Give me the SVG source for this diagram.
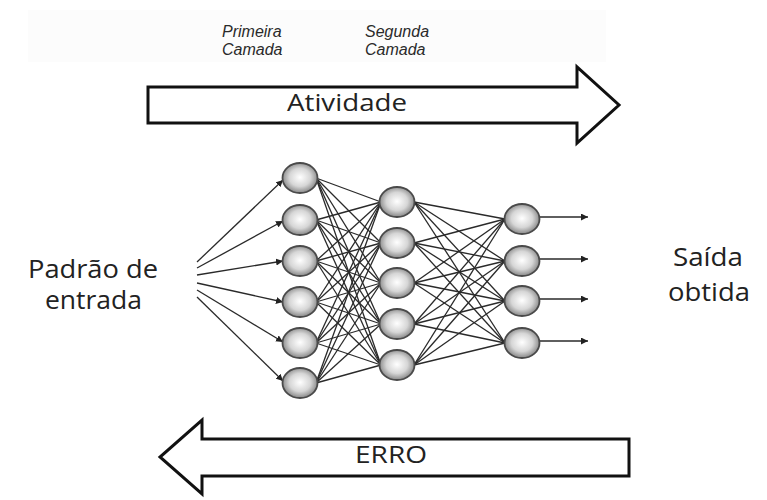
<svg xmlns="http://www.w3.org/2000/svg" width="767" height="500" viewBox="0 0 767 500">
<defs>
<radialGradient id="g" cx="0.5" cy="0.48" r="0.55">
<stop offset="0" stop-color="#ffffff"/>
<stop offset="0.55" stop-color="#d6d6d6"/>
<stop offset="1" stop-color="#7c7c7c"/>
</radialGradient>
<marker id="ah" viewBox="0 0 10 10" refX="10" refY="5" markerWidth="7" markerHeight="7" markerUnits="userSpaceOnUse" orient="auto">
<path d="M0,0 L10,5 L0,10 z" fill="#222"/>
</marker>
</defs>
<style>
.n{fill:url(#g);stroke:#4a4a4a;stroke-width:1.8}
.c line{stroke:#2a2a2a;stroke-width:1.3}
.a{stroke:#2a2a2a;stroke-width:1.3;marker-end:url(#ah)}
.big{fill:#fff;stroke:#111;stroke-width:3}
.lbl{font-family:"Open Sans","Liberation Sans",sans-serif;fill:#222}
.side{font-family:"Open Sans","Liberation Sans",sans-serif;fill:#222;font-size:25px}
.it{font-family:"Liberation Sans",Arial,sans-serif;font-style:italic;font-size:16px;fill:#2a2a2a}
</style>
<rect width="767" height="500" fill="#fff"/>
<rect x="28" y="10" width="578" height="52" fill="#fcfcfc"/>

<g id="label-primeira"><text class="it" x="222" y="37">Primeira</text><text class="it" x="222" y="55">Camada</text></g>
<g id="label-segunda"><text class="it" x="365" y="37">Segunda</text><text class="it" x="365" y="55">Camada</text></g>

<g id="arrow-atividade">
<path class="big" d="M148,87 L577,87 L577,67 L619,105 L577,143 L577,123 L148,123 Z"/>
<text class="lbl" x="287" y="111" font-size="24" textLength="120" lengthAdjust="spacingAndGlyphs">Atividade</text>
</g>
<g id="arrow-erro">
<path class="big" d="M629,439 L202,439 L202,420 L160,457 L202,494 L202,476 L629,476 Z"/>
<text class="lbl" x="355" y="463" font-size="24" textLength="72" lengthAdjust="spacingAndGlyphs">ERRO</text>
</g>

<g id="label-entrada"><text class="side" x="28" y="278" textLength="130" lengthAdjust="spacingAndGlyphs">Padrão de</text><text class="side" x="45" y="309" textLength="97" lengthAdjust="spacingAndGlyphs">entrada</text></g>
<g id="label-saida"><text class="side" x="673" y="266" textLength="70" lengthAdjust="spacingAndGlyphs">Saída</text><text class="side" x="668" y="301" textLength="82" lengthAdjust="spacingAndGlyphs">obtida</text></g>

<g id="connectors" class="c">
<line class="a" x1="197" y1="262" x2="283" y2="180"/>
<line class="a" x1="197" y1="268" x2="283" y2="221"/>
<line class="a" x1="197" y1="275" x2="283" y2="261"/>
<line class="a" x1="197" y1="283" x2="283" y2="302"/>
<line class="a" x1="197" y1="290" x2="283" y2="342"/>
<line class="a" x1="197" y1="297" x2="283" y2="381"/>
<line x1="316" y1="178" x2="381" y2="202"/><line x1="316" y1="178" x2="381" y2="243"/><line x1="316" y1="178" x2="381" y2="283"/><line x1="316" y1="178" x2="381" y2="324"/><line x1="316" y1="178" x2="381" y2="365"/>
<line x1="316" y1="220" x2="381" y2="202"/><line x1="316" y1="220" x2="381" y2="243"/><line x1="316" y1="220" x2="381" y2="283"/><line x1="316" y1="220" x2="381" y2="324"/><line x1="316" y1="220" x2="381" y2="365"/>
<line x1="316" y1="261" x2="381" y2="202"/><line x1="316" y1="261" x2="381" y2="243"/><line x1="316" y1="261" x2="381" y2="283"/><line x1="316" y1="261" x2="381" y2="324"/><line x1="316" y1="261" x2="381" y2="365"/>
<line x1="316" y1="302" x2="381" y2="202"/><line x1="316" y1="302" x2="381" y2="243"/><line x1="316" y1="302" x2="381" y2="283"/><line x1="316" y1="302" x2="381" y2="324"/><line x1="316" y1="302" x2="381" y2="365"/>
<line x1="316" y1="343" x2="381" y2="202"/><line x1="316" y1="343" x2="381" y2="243"/><line x1="316" y1="343" x2="381" y2="283"/><line x1="316" y1="343" x2="381" y2="324"/><line x1="316" y1="343" x2="381" y2="365"/>
<line x1="316" y1="383" x2="381" y2="202"/><line x1="316" y1="383" x2="381" y2="243"/><line x1="316" y1="383" x2="381" y2="283"/><line x1="316" y1="383" x2="381" y2="324"/><line x1="316" y1="383" x2="381" y2="365"/>
<line x1="414" y1="202" x2="505" y2="219"/><line x1="414" y1="202" x2="505" y2="261"/><line x1="414" y1="202" x2="505" y2="301"/><line x1="414" y1="202" x2="505" y2="343"/>
<line x1="414" y1="243" x2="505" y2="219"/><line x1="414" y1="243" x2="505" y2="261"/><line x1="414" y1="243" x2="505" y2="301"/><line x1="414" y1="243" x2="505" y2="343"/>
<line x1="414" y1="283" x2="505" y2="219"/><line x1="414" y1="283" x2="505" y2="261"/><line x1="414" y1="283" x2="505" y2="301"/><line x1="414" y1="283" x2="505" y2="343"/>
<line x1="414" y1="324" x2="505" y2="219"/><line x1="414" y1="324" x2="505" y2="261"/><line x1="414" y1="324" x2="505" y2="301"/><line x1="414" y1="324" x2="505" y2="343"/>
<line x1="414" y1="365" x2="505" y2="219"/><line x1="414" y1="365" x2="505" y2="261"/><line x1="414" y1="365" x2="505" y2="301"/><line x1="414" y1="365" x2="505" y2="343"/>
<line class="a" x1="540" y1="217" x2="588" y2="217"/>
<line class="a" x1="540" y1="259" x2="588" y2="259"/>
<line class="a" x1="540" y1="299" x2="588" y2="299"/>
<line class="a" x1="540" y1="341" x2="588" y2="341"/>
</g>

<g id="n1-1"><ellipse class="n" cx="300" cy="178" rx="17.5" ry="15"/></g>
<g id="n1-2"><ellipse class="n" cx="300" cy="220" rx="17.5" ry="15"/></g>
<g id="n1-3"><ellipse class="n" cx="300" cy="261" rx="17.5" ry="15"/></g>
<g id="n1-4"><ellipse class="n" cx="300" cy="302" rx="17.5" ry="15"/></g>
<g id="n1-5"><ellipse class="n" cx="300" cy="343" rx="17.5" ry="15"/></g>
<g id="n1-6"><ellipse class="n" cx="300" cy="383" rx="17.5" ry="15"/></g>

<g id="n2-1"><ellipse class="n" cx="397" cy="202" rx="17.5" ry="15"/></g>
<g id="n2-2"><ellipse class="n" cx="397" cy="243" rx="17.5" ry="15"/></g>
<g id="n2-3"><ellipse class="n" cx="397" cy="283" rx="17.5" ry="15"/></g>
<g id="n2-4"><ellipse class="n" cx="397" cy="324" rx="17.5" ry="15"/></g>
<g id="n2-5"><ellipse class="n" cx="397" cy="365" rx="17.5" ry="15"/></g>

<g id="n3-1"><ellipse class="n" cx="522" cy="219" rx="17.5" ry="15"/></g>
<g id="n3-2"><ellipse class="n" cx="522" cy="261" rx="17.5" ry="15"/></g>
<g id="n3-3"><ellipse class="n" cx="522" cy="301" rx="17.5" ry="15"/></g>
<g id="n3-4"><ellipse class="n" cx="522" cy="343" rx="17.5" ry="15"/></g>
</svg>
